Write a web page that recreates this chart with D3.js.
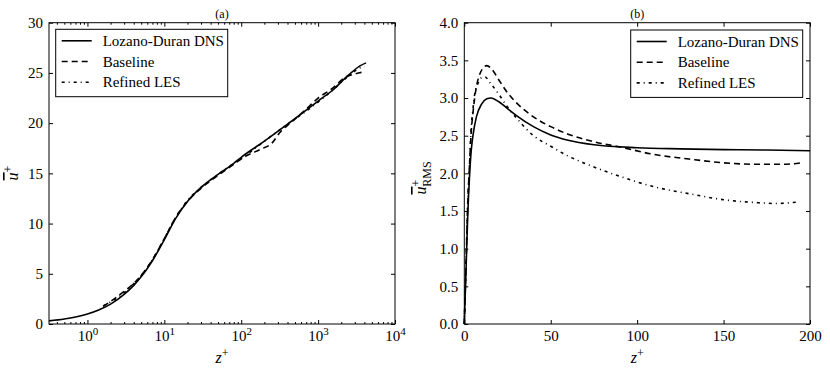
<!DOCTYPE html>
<html>
<head>
<meta charset="utf-8">
<script src="https://cdn.jsdelivr.net/npm/d3@7"></script>
<style>
  body { margin: 0; background: #fff; }
  svg text { font-family: "Liberation Serif", "Times New Roman", Times, "DejaVu Serif", serif; fill: #000; }
  .axis path { display: none; }
  .axis line { stroke: #000; stroke-width: 1; }
  .axis text { font-size: 15px; }
</style>
</head>
<body>
<div id="chart"></div>
<script>
// ---- data: panel (a), mean velocity profile ----
var dnsZa = [0.316, 0.5, 0.75, 1, 1.4, 2, 3, 4, 5, 7, 10, 14, 20, 30, 50, 80, 100, 200, 400, 700, 1000, 1500, 2500, 3500, 4200];
var dnsUa = [0.31, 0.5, 0.75, 1.0, 1.4, 1.98, 2.95, 3.85, 4.7, 6.3, 8.4, 10.5, 12.2, 13.6, 14.9, 16.0, 16.6, 18.2, 19.9, 21.3, 22.2, 23.2, 24.8, 25.7, 26.0];
var baseZa = [1.6, 2, 3, 4, 5, 7, 10, 14, 20, 30, 50, 80, 120, 180, 250, 320, 450, 700, 1000, 1500, 2200, 3000, 4000];
var baseUa = [1.75, 2.25, 3.25, 4.05, 4.85, 6.4, 8.5, 10.6, 12.2, 13.5, 14.8, 15.9, 16.8, 17.4, 18.0, 19.1, 20.1, 21.4, 22.5, 23.4, 24.5, 24.9, 25.1];
var lesZa = [1.6, 2, 3, 4, 5, 7, 10, 14, 20, 30, 50, 80, 120, 200, 400, 700, 1000, 1500, 2500, 3500, 4000];
var lesUa = [1.8, 2.2, 3.1, 4.0, 4.8, 6.4, 8.5, 10.6, 12.3, 13.6, 14.9, 16.0, 16.9, 18.2, 19.9, 21.2, 22.1, 23.2, 24.7, 25.5, 25.7];

// ---- data: panel (b), RMS streamwise fluctuation ----
var dnsZb = [0, 1, 2, 3, 4, 5, 7, 10, 13, 15.5, 20, 25, 30, 40, 50, 60, 75, 100, 125, 150, 175, 200];
var dnsUb = [0, 0.72, 1.45, 1.95, 2.3, 2.5, 2.75, 2.92, 2.99, 3.0, 2.95, 2.86, 2.77, 2.62, 2.51, 2.44, 2.38, 2.34, 2.325, 2.315, 2.31, 2.30];
var baseZb = [0, 1, 2, 3, 4, 5, 6, 7, 9, 11, 13, 16, 20, 25, 30, 40, 50, 60, 75, 90, 110, 130, 150, 170, 185, 195];
var baseUb = [0, 0.8, 1.6, 2.1, 2.55, 2.8, 3.0, 3.15, 3.32, 3.4, 3.43, 3.38, 3.24, 3.07, 2.94, 2.75, 2.62, 2.52, 2.42, 2.35, 2.25, 2.19, 2.14, 2.12, 2.12, 2.14];
var lesZb = [0, 1, 2, 3, 4, 5, 6, 8, 10, 12, 15, 20, 25, 30, 40, 50, 60, 70, 90, 110, 130, 150, 170, 180, 193];
var lesUb = [0, 0.8, 1.6, 2.1, 2.6, 2.85, 3.05, 3.2, 3.27, 3.28, 3.2, 3.05, 2.88, 2.74, 2.5, 2.36, 2.23, 2.13, 1.96, 1.82, 1.73, 1.65, 1.61, 1.60, 1.62];

var seriesNames = ["Lozano-Duran DNS", "Baseline", "Refined LES"];
var dashes = [null, "6,4", "3,4,1,4"];

var yTicksA = [0, 5, 10, 15, 20, 25, 30];
var yTicksB = [0, 0.5, 1.0, 1.5, 2.0, 2.5, 3.0, 3.5, 4.0];
var xTicksA = [1, 10, 100, 1000, 10000];
var xTicksB = [0, 50, 100, 150, 200];

var serif = '"Liberation Serif", "Times New Roman", Times, serif';

var svg = d3.select("#chart").append("svg")
  .attr("width", 830)
  .attr("height", 372)
  .attr("font-family", serif);

var top_ = 22.7, bottom_ = 324;

function zip(xs, ys) {
  return xs.map(function(x, i) { return [x, ys[i]]; });
}

function drawPanel(opt) {
  var g = svg.append("g");
  var x = opt.x, y = opt.y;
  var x0 = x.range()[0], x1 = x.range()[1];

  // curves
  var line = d3.line()
    .x(function(d) { return x(d[0]); })
    .y(function(d) { return y(d[1]); })
    .curve(d3.curveMonotoneX);

  opt.series.forEach(function(s, i) {
    g.append("path")
      .datum(s)
      .attr("fill", "none")
      .attr("stroke", "#000")
      .attr("stroke-width", 1.6)
      .attr("stroke-dasharray", dashes[i])
      .attr("d", line);
  });

  // axes, ticks inward on all four sides
  var bottom = g.append("g").attr("class", "axis")
    .attr("transform", "translate(0," + bottom_ + ")")
    .call(d3.axisBottom(x).tickValues(opt.xTicks).tickSizeInner(-4).tickSizeOuter(0).tickPadding(6)
      .tickFormat(opt.xFormat || d3.format("d")));
  g.append("g").attr("class", "axis")
    .attr("transform", "translate(0," + top_ + ")")
    .call(d3.axisTop(x).tickValues(opt.xTicks).tickSizeInner(-4).tickSizeOuter(0).tickFormat(""));

  if (opt.minor) {
    g.append("g").attr("class", "axis")
      .attr("transform", "translate(0," + bottom_ + ")")
      .call(d3.axisBottom(x).tickValues(opt.minor).tickSizeInner(-2).tickSizeOuter(0).tickFormat(""));
    g.append("g").attr("class", "axis")
      .attr("transform", "translate(0," + top_ + ")")
      .call(d3.axisTop(x).tickValues(opt.minor).tickSizeInner(-2).tickSizeOuter(0).tickFormat(""));
  }

  g.append("g").attr("class", "axis")
    .attr("transform", "translate(" + x0 + ",0)")
    .call(d3.axisLeft(y).tickValues(opt.yTicks).tickSizeInner(-4).tickSizeOuter(0).tickPadding(6)
      .tickFormat(opt.yFormat));
  g.append("g").attr("class", "axis")
    .attr("transform", "translate(" + x1 + ",0)")
    .call(d3.axisRight(y).tickValues(opt.yTicks).tickSizeInner(-4).tickSizeOuter(0).tickFormat(""));

  g.selectAll(".axis").attr("font-family", serif);

  if (opt.logLabels) {
    bottom.selectAll(".tick text").each(function(d) {
      var t = d3.select(this);
      t.text(null);
      t.append("tspan").text("10");
      t.append("tspan").attr("dy", -6).style("font-size", "11px").text(Math.round(Math.log10(d)));
    });
  }

  // frame
  g.append("rect")
    .attr("x", x0).attr("y", top_)
    .attr("width", x1 - x0).attr("height", bottom_ - top_)
    .attr("fill", "none").attr("stroke", "#000").attr("stroke-width", 1);

  // title
  g.append("text")
    .attr("x", (x0 + x1) / 2).attr("y", 18)
    .attr("text-anchor", "middle")
    .style("font-size", "12px")
    .text(opt.title);

  // x label
  var xl = g.append("text")
    .attr("x", (x0 + x1) / 2).attr("y", 363)
    .attr("text-anchor", "middle")
    .style("font-size", "16px");
  xl.append("tspan").style("font-style", "italic").text("z");
  xl.append("tspan").attr("dy", -6).style("font-size", "12px").text("+");

  // legend
  var lx = opt.legend[0], ly = opt.legend[1];
  g.append("rect")
    .attr("x", lx).attr("y", ly)
    .attr("width", 172).attr("height", 67.4)
    .attr("fill", "#fff").attr("stroke", "#000").attr("stroke-width", 1);
  seriesNames.forEach(function(name, i) {
    var cy = ly + 11.5 + i * 20.7;
    g.append("line")
      .attr("x1", lx + 6).attr("x2", lx + 36)
      .attr("y1", cy).attr("y2", cy)
      .attr("stroke", "#000").attr("stroke-width", 1.6)
      .attr("stroke-dasharray", dashes[i]);
    g.append("text")
      .attr("x", lx + 47).attr("y", cy + 5)
      .style("font-size", "15px")
      .text(name);
  });
  return g;
}

// panel (a)
var xa = d3.scaleLog().domain([Math.pow(10, -0.5), 10000]).range([49, 395]);
var ya = d3.scaleLinear().domain([0, 30]).range([bottom_, top_]);
var minorA = [];
[0.1, 1, 10, 100, 1000].forEach(function(dec) {
  for (var k = 2; k <= 9; k++) {
    var v = dec * k;
    if (v >= Math.pow(10, -0.5) && v < 10000) minorA.push(v);
  }
});

drawPanel({
  x: xa, y: ya,
  xTicks: xTicksA, yTicks: yTicksA, minor: minorA,
  logLabels: true,
  yFormat: d3.format("d"),
  title: "(a)",
  legend: [55.7, 29.3],
  series: [zip(dnsZa, dnsUa), zip(baseZa, baseUa), zip(lesZa, lesUa)]
});

// panel (b)
var xb = d3.scaleLinear().domain([0, 200]).range([464.3, 810]);
var yb = d3.scaleLinear().domain([0, 4]).range([bottom_, top_]);

drawPanel({
  x: xb, y: yb,
  xTicks: xTicksB, yTicks: yTicksB,
  yFormat: d3.format(".1f"),
  title: "(b)",
  legend: [630.7, 30],
  series: [zip(dnsZb, dnsUb), zip(baseZb, baseUb), zip(lesZb, lesUb)]
});

// y labels
var yla = svg.append("text")
  .attr("transform", "translate(18,173) rotate(-90)")
  .attr("text-anchor", "middle")
  .style("font-size", "16px");
yla.append("tspan").style("font-style", "italic").style("text-decoration", "overline").text("u");
yla.append("tspan").attr("dy", -6).style("font-size", "12px").text("+");

var ylb = svg.append("text")
  .attr("transform", "translate(426,178) rotate(-90)")
  .attr("text-anchor", "middle")
  .style("font-size", "16px");
ylb.append("tspan").style("font-style", "italic").style("text-decoration", "overline").text("u");
ylb.append("tspan").attr("dy", -6).style("font-size", "12px").text("+");
ylb.append("tspan").attr("dx", -7).attr("dy", 11).style("font-size", "12px").text("RMS");
</script>
</body>
</html>
